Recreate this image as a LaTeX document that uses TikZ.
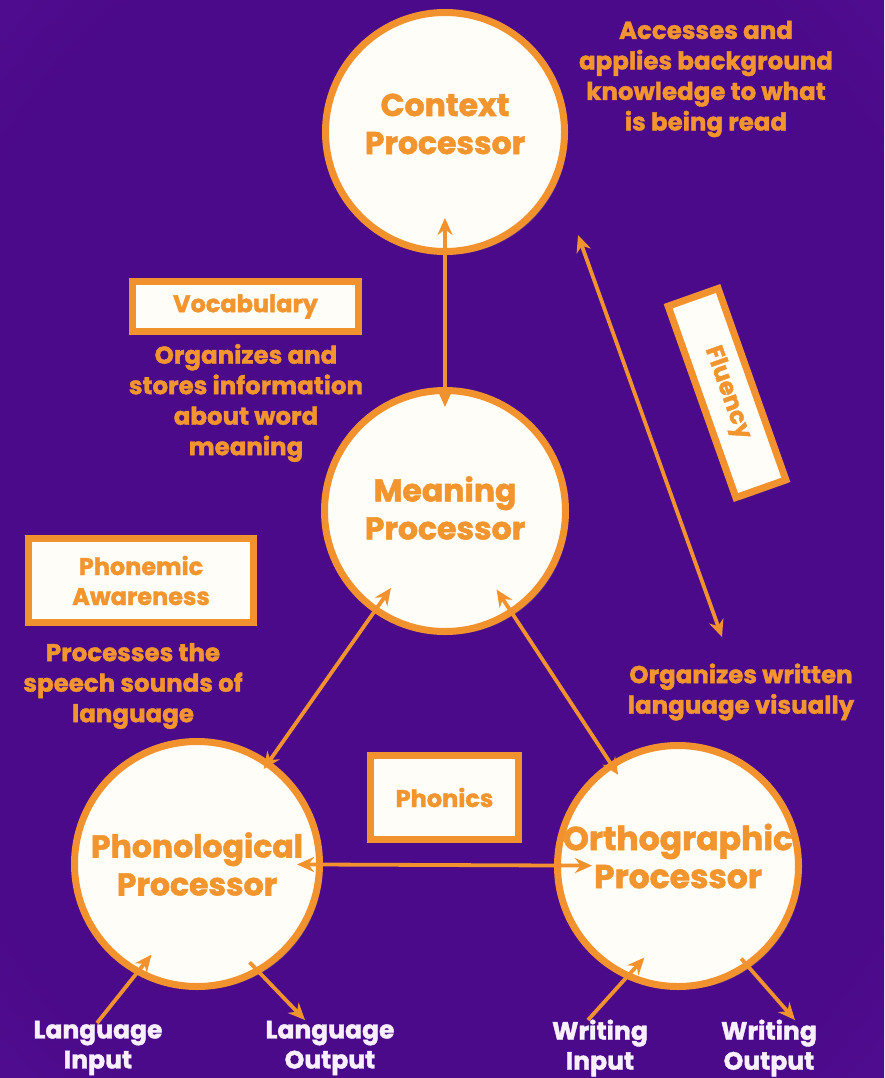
\documentclass[tikz,border=0pt]{standalone}
\usepackage{fontspec}
\setmainfont{Poppins}[BoldFeatures={FakeBold=1.6}]
\usetikzlibrary{arrows.meta,shadows}
\definecolor{bgdark}{HTML}{4B0A8A}
\definecolor{bglight}{HTML}{6E1CB0}
\definecolor{org}{HTML}{F2922E}
\definecolor{orgtext}{HTML}{F2952F}
\definecolor{paper}{HTML}{FFFDF8}
\definecolor{pale}{HTML}{F9F0FF}
% dark violet centre fading to a lighter violet at the edges
\pgfdeclareradialshading{backdrop}{\pgfpoint{0bp}{0bp}}{color(0bp)=(bgdark); color(30bp)=(bgdark); color(72bp)=(bglight)}

\begin{document}
\begin{tikzpicture}[x=1pt,y=-1pt,
  softshadow/.style={drop shadow={opacity=0.45,shadow xshift=3pt,shadow yshift=-3pt}},
  proc/.style={circle, draw=org, line width=7pt, fill=paper, inner sep=0pt, softshadow},
  title/.style={text=orgtext, font=\fontsize{31.5}{38}\selectfont\bfseries, align=center, inner sep=0pt},
  skill/.style={rectangle, draw=org, line width=7pt, fill=paper, inner sep=0pt,
    text=orgtext, font=\fontsize{24}{30}\selectfont\bfseries, align=center, softshadow},
  note/.style={text=orgtext, font=\fontsize{24.5}{30.5}\selectfont\bfseries, align=center, inner sep=0pt},
  io/.style={text=pale, font=\fontsize{25}{30}\selectfont\bfseries, align=center, inner sep=0pt},
  link/.style={draw=org, line width=3.8pt,
    {Stealth[length=17pt,width=15pt]}-{Stealth[length=17pt,width=15pt]}},
  flow/.style={draw=org, line width=3.8pt, -{Stealth[length=17pt,width=15pt]}},
]
\useasboundingbox (0,0) rectangle (884,1078);
\shade[shading=backdrop] (0,0) rectangle (884,1078);

% the four processors
\node[proc, minimum size=239pt] (ctx)   at (445,132) {};
\node[proc, minimum size=241pt] (mean)  at (445,511) {};
\node[proc, minimum size=245pt] (phono) at (197,864) {};
\node[proc, minimum size=241pt] (ortho) at (678,866) {};
\node[title] (ctxname)   at ([yshift=8pt]ctx.center)   {Context\\Processor};
\node[title] (meanname)  at ([yshift=3pt]mean.center)  {Meaning\\Processor};
\node[title] (phononame) at (phono.center)             {Phonological\\Processor};
\node[title, font=\fontsize{33}{38}\selectfont\bfseries] (orthoname) at ([yshift=10pt]ortho.center) {Orthographic\\Processor};

% skill boxes
\node[skill, minimum width=226pt, minimum height=50pt] (voc) at (245.5,306.5) {Vocabulary};
\node[skill, minimum width=225pt, minimum height=84pt] (pa)  at (141,580.5) {Phonemic\\Awareness};
\node[skill, minimum width=148pt, minimum height=84pt] (phx) at (444.5,797.5) {Phonics};
\node[skill, minimum width=203pt, minimum height=53pt, rotate=-70.5] (flu) at (727,393) {Fluency};

% descriptions
\node[note] (ctxnote)  at (706,79)  {Accesses and\\applies background\\knowledge to what\\is being read};
\node[note] (vocnote)  at (246,403) {Organizes and\\stores information\\about word\\meaning};
\node[note] (panote)   at (133,686) {Processes the\\speech sounds of\\language};
\node[note] (orthnote) at (741,692) {Organizes written\\language visually};

% links between processors
\draw[link, shorten <=-37pt, shorten >=-20pt] (ctx) -- (mean);
\draw[link, shorten <=-30pt, shorten >=-10pt] (mean) -- (phono);
\draw[link, shorten <=-30pt, shorten >=-15pt] (mean) -- (ortho);
\draw[link, shorten <=-26pt, shorten >=-38pt] (phono) -- (ortho);

% fluency link
\coordinate (fA) at (578,235);
\coordinate (fB) at (722,637);
\draw[link] (fA) -- (fB);

% inputs and outputs
\coordinate (liT) at (97,1023);
\coordinate (loH) at (305,1020);
\coordinate (wiT) at (588,1020);
\coordinate (woH) at (795,1020);
\draw[flow, shorten >=-25pt] (liT) -- (phono.-119);
\draw[flow, shorten <=-15pt] (phono.-60) -- (loH);
\draw[flow, shorten >=-28pt] (wiT) -- (ortho.-115);
\draw[flow, shorten <=-12pt] (ortho.-55) -- (woH);

\node[io] (lin)  at (98,1048)  {Language\\Input};
\node[io] (lout) at (330,1048) {Language\\Output};
\node[io] (win)  at (600,1048) {Writing\\Input};
\node[io] (wout) at (769,1048) {Writing\\Output};
\end{tikzpicture}
\end{document}
